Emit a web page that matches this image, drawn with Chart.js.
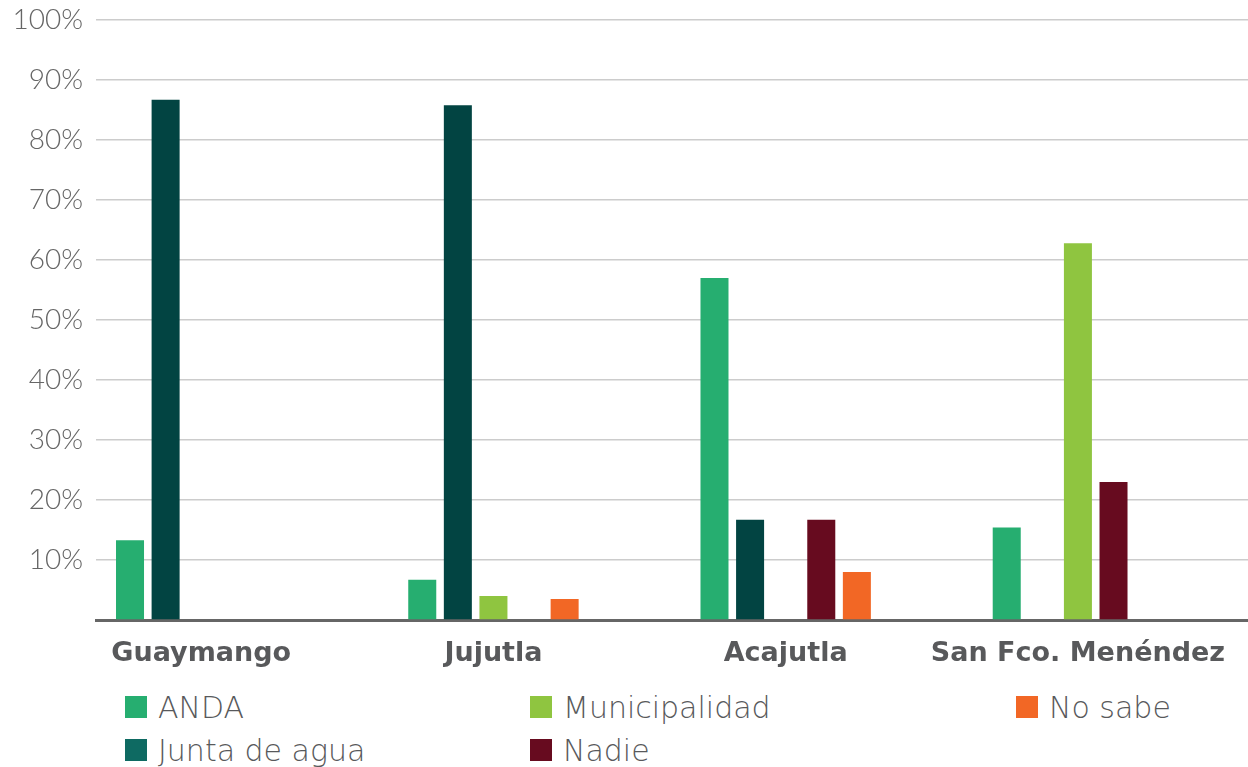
<!DOCTYPE html>
<html lang="es">
<head>
<meta charset="utf-8">
<title>Responsable del servicio de agua por municipio</title>
<script src="https://cdn.jsdelivr.net/npm/chart.js@4.4.1/dist/chart.umd.min.js"></script>
<style>
    html, body { margin: 0; padding: 0; background: #fff; }
    body { width: 1248px; height: 767px; position: relative; overflow: hidden; font-family: "DejaVu Sans", Lato, sans-serif; }
    #wrap { position: absolute; left: 0; top: 0; width: 1248px; height: 680px; }
    #leyenda {
        position: absolute; left: 125px; top: 693px;
        display: grid; grid-auto-flow: column;
        grid-template-rows: 43px 43px;
        grid-template-columns: 405px 486px 220px;
    }
    .item { display: flex; align-items: center; height: 28px; color: #58595b; font-size: 30px; font-weight: 200; white-space: nowrap; }
    .item span.sw { width: 22px; height: 22px; margin-right: 11px; flex: none; }
</style>
</head>
<body>
<div id="wrap"><canvas id="graficoAgua"></canvas></div>
<div id="leyenda"></div>
<script>
const municipios = ['Guaymango', 'Jujutla', 'Acajutla', 'San Fco. Menéndez'];
const ticksY = [0, 10, 20, 30, 40, 50, 60, 70, 80, 90, 100];

const anda = [13.3, 6.7, 57, 15.4];
const juntaAgua = [86.7, 85.8, 16.7, 0];
const municipalidad = [0, 4, 0, 62.8];
const nadie = [0, 0, 16.7, 23];
const noSabe = [0, 3.5, 8, 0];

const series = [
    { label: 'ANDA', valores: anda, color: '#26ae70', leyenda: '#26ae70' },
    { label: 'Junta de agua', valores: juntaAgua, color: '#024442', leyenda: '#0e6a62' },
    { label: 'Municipalidad', valores: municipalidad, color: '#8fc540', leyenda: '#8fc540' },
    { label: 'Nadie', valores: nadie, color: '#670b1f', leyenda: '#670b1f' },
    { label: 'No sabe', valores: noSabe, color: '#f26725', leyenda: '#f26725' }
];

document.addEventListener('DOMContentLoaded', () => {
    initChart();
    buildLegend();
});

function initChart() {
    const ctx = document.getElementById('graficoAgua').getContext('2d');
    const chart = new Chart(ctx, {
        type: 'bar',
        data: {
            datasets: series.map(s => ({
                label: s.label,
                data: s.valores.map((v, i) => ({ x: i, y: v })),
                backgroundColor: s.color,
                borderWidth: 0,
                categoryPercentage: 0.609,
                barPercentage: 0.787
            }))
        },
        options: {
            responsive: true,
            maintainAspectRatio: false,
            animation: false,
            layout: { padding: { top: 20, right: 0, left: 0, bottom: 0 } },
            plugins: {
                legend: { display: false },
                tooltip: { enabled: false }
            },
            scales: {
                x: {
                    type: 'linear',
                    offset: false,
                    min: -0.36,
                    max: 3.582,
                    afterBuildTicks: (scale) => {
                        scale.ticks = municipios.map((m, i) => ({ value: i }));
                    },
                    afterFit: (scale) => {
                        scale.height = 60;
                        scale.paddingLeft = 0;
                        scale.paddingRight = 0;
                    },
                    grid: { display: false, drawTicks: false },
                    border: { display: true, color: '#666666', width: 3 },
                    ticks: {
                        autoSkip: false,
                        maxRotation: 0,
                        padding: 18,
                        color: '#58595b',
                        font: { family: 'DejaVu Sans', size: 27, weight: 'bold' },
                        callback: (v) => municipios[v]
                    }
                },
                y: {
                    min: 0,
                    max: 100,
                    afterBuildTicks: (scale) => {
                        scale.ticks = ticksY.map(v => ({ value: v }));
                    },
                    afterFit: (scale) => {
                        scale.width = 96;
                        scale.paddingTop = 0;
                        scale.paddingBottom = 0;
                    },
                    grid: {
                        drawTicks: false,
                        lineWidth: 1.5,
                        color: (c) => c.tick && c.tick.value === 0 ? 'rgba(0,0,0,0)' : '#cccccc'
                    },
                    border: { display: false },
                    ticks: {
                        padding: 13,
                        color: '#666666',
                        font: { family: 'Lato', size: 28, weight: '300' },
                        callback: (v) => v === 0 ? '' : v + '%'
                    }
                }
            }
        }
    });

    window.graficoAgua = chart;
}

function buildLegend() {
    const cont = document.getElementById('leyenda');
    cont.innerHTML = series.map(s => `
        <div class="item"><span class="sw" style="background:${s.leyenda}"></span>${s.label}</div>
    `).join('');
}
</script>
</body>
</html>
